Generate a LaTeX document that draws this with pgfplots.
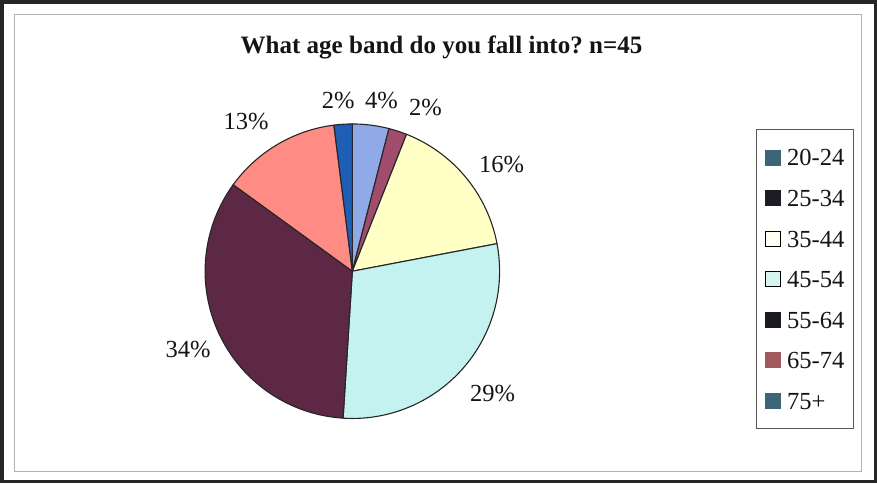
\documentclass[border=0pt]{standalone}
\usepackage{fontspec}
\setmainfont{Liberation Serif}
\usepackage{pgfplots}
\usepackage{pgfplotstable}
\pgfplotsset{compat=1.18}
\definecolor{slice0}{HTML}{8FAAE6}
\definecolor{slice1}{HTML}{A04C6C}
\definecolor{slice2}{HTML}{FFFFC6}
\definecolor{slice3}{HTML}{C4F2F0}
\definecolor{slice4}{HTML}{5C2846}
\definecolor{slice5}{HTML}{FF8C84}
\definecolor{slice6}{HTML}{1E5EB4}
\definecolor{leg0}{HTML}{3D6478}
\definecolor{leg1}{HTML}{1C1C24}
\definecolor{leg2}{HTML}{FFFFF2}
\definecolor{leg3}{HTML}{D6F4F0}
\definecolor{leg4}{HTML}{1C1A1E}
\definecolor{leg5}{HTML}{A05A5E}
\definecolor{leg6}{HTML}{3D6478}
\definecolor{txt}{HTML}{141414}
\pgfplotstableread{
band value
20-24 4
25-34 2
35-44 16
45-54 29
55-64 34
65-74 13
75+ 2
}\agedata
\begin{document}
\frenchspacing
\begin{tikzpicture}
\begin{axis}[
  width=877pt, height=484pt, scale only axis,
  xmin=0, xmax=877, ymin=0, ymax=484,
  hide axis, clip=false,
  legend style={at={(axis cs:755,355)}, anchor=north west,
    draw=gray!70!black, line width=0.8pt, fill=white,
    font=\fontsize{24.5}{28}\selectfont, text=txt,
    inner xsep=9pt, inner ysep=19.5pt,
    row sep=23.5pt, column sep=6pt,
    nodes={inner sep=0pt, text height=17pt, text depth=0pt}},
  legend cell align=left,
  legend image code/.code={\draw[#1, line width=0.6pt] (0pt,-7.5pt) rectangle (15pt,7.5pt);},
]
% frames
\draw[line width=3.5pt, black!85] (2,3) rectangle (874,482);
\draw[line width=1.2pt, gray!60] (15,13) rectangle (860,469);
% pie slices from the table
\xdef\cum{0}
\pgfplotsinvokeforeach{0,...,6}{%
  \pgfplotstablegetelem{#1}{value}\of\agedata
  \let\v\pgfplotsretval
  \pgfmathsetmacro\a{90-3.6*(\cum+\v)}%
  \pgfmathsetmacro\b{90-3.6*\cum}%
  \pgfmathsetmacro\cumnew{\cum+\v}%
  \xdef\cum{\cumnew}%
  \edef\doplot{\noexpand\addplot[fill=slice#1, draw=black!85, line width=1.1pt, line join=round,
     domain=\a:\b, samples=80, variable=\noexpand\t, forget plot]
     ({352+147*cos(\noexpand\t)}, {213+147*sin(\noexpand\t)}) -- (352,213) -- cycle;}%
  \doplot
}
% legend entries
\addlegendimage{fill=leg0, draw=leg0}\addlegendentry{20-24}
\addlegendimage{fill=leg1, draw=leg1}\addlegendentry{25-34}
\addlegendimage{fill=leg2, draw=black}\addlegendentry{35-44}
\addlegendimage{fill=leg3, draw=black}\addlegendentry{45-54}
\addlegendimage{fill=leg4, draw=leg4}\addlegendentry{55-64}
\addlegendimage{fill=leg5, draw=leg5}\addlegendentry{65-74}
\addlegendimage{fill=leg6, draw=leg6}\addlegendentry{75+}
% labels
\begin{scope}[every node/.style={inner sep=0pt, text height=16pt, text depth=0pt, text=txt, font=\fontsize{24.5}{28}\selectfont}]
\node at (338,383) {2\%};
\node at (381,383) {4\%};
\node at (425,376) {2\%};
\node at (501,320) {16\%};
\node at (246,362) {13\%};
\node at (188,135) {34\%};
\node at (492,91) {29\%};
\end{scope}
\node[text=txt, font=\fontsize{25}{30}\selectfont\bfseries, inner sep=0pt, text height=17pt, text depth=0pt] at (441,439) {What age band do you fall into? n=45};
\end{axis}
\end{tikzpicture}
\end{document}
